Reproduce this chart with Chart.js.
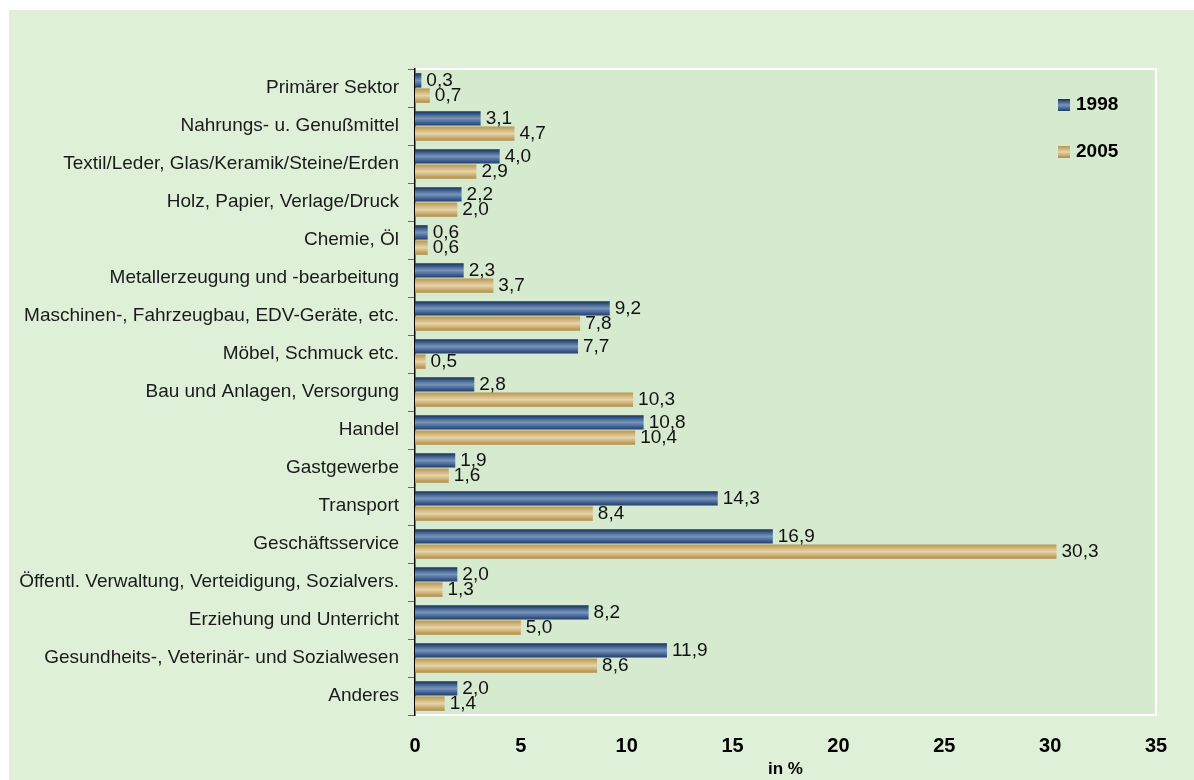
<!DOCTYPE html>
<html>
<head>
<meta charset="utf-8">
<script src="https://cdn.jsdelivr.net/npm/chart.js@4"></script>
<style>
  html, body { margin: 0; padding: 0; background: #ffffff; }
  #wrap { width: 1194px; height: 780px; }
</style>
</head>
<body>
<div id="wrap"><canvas id="chart" width="1194" height="780"></canvas></div>
<script>
// Branchen (categories)
const categories = [
  'Primärer Sektor',
  'Nahrungs- u. Genußmittel',
  'Textil/Leder, Glas/Keramik/Steine/Erden',
  'Holz, Papier, Verlage/Druck',
  'Chemie, Öl',
  'Metallerzeugung und -bearbeitung',
  'Maschinen-, Fahrzeugbau, EDV-Geräte, etc.',
  'Möbel, Schmuck etc.',
  'Bau und Anlagen, Versorgung',
  'Handel',
  'Gastgewerbe',
  'Transport',
  'Geschäftsservice',
  'Öffentl. Verwaltung, Verteidigung, Sozialvers.',
  'Erziehung und Unterricht',
  'Gesundheits-, Veterinär- und Sozialwesen',
  'Anderes'
];
const values1998 = [0.3, 3.1, 4.0, 2.2, 0.6, 2.3, 9.2, 7.7, 2.8, 10.8, 1.9, 14.3, 16.9, 2.0, 8.2, 11.9, 2.0];
const values2005 = [0.7, 4.7, 2.9, 2.0, 0.6, 3.7, 7.8, 0.5, 10.3, 10.4, 1.6, 8.4, 30.3, 1.3, 5.0, 8.6, 1.4];
const seriesLabels = ['1998', '2005'];
const xTicks = [0, 5, 10, 15, 20, 25, 30, 35];

const FONT = "'Liberation Sans', Arial, sans-serif";
const gradStops = [
  ['#14315f', '#7695bc', '#1f3c6e'],
  ['#b8964f', '#e6d3a8', '#b08c45']
];

function makeGradient(ctx, top, bottom, stops) {
  const g = ctx.createLinearGradient(0, top, 0, bottom);
  g.addColorStop(0, stops[0]);
  g.addColorStop(0.5, stops[1]);
  g.addColorStop(1, stops[2]);
  return g;
}

// background + plot area
const backgroundPlugin = {
  id: 'background',
  beforeDraw(chart) {
    const ctx = chart.ctx;
    const a = chart.chartArea;
    ctx.save();
    ctx.fillStyle = '#dff0d8';
    ctx.fillRect(9, 10, chart.width - 9, chart.height - 10);
    ctx.fillStyle = '#d5eace';
    ctx.fillRect(a.left, a.top, a.right - a.left, a.bottom - a.top);
    ctx.strokeStyle = '#ffffff';
    ctx.lineWidth = 2;
    ctx.strokeRect(a.left, a.top, a.right - a.left, a.bottom - a.top);
    ctx.restore();
  }
};

// gradient per bar
const barGradientPlugin = {
  id: 'barGradient',
  beforeDatasetDraw(chart, args) {
    const ctx = chart.ctx;
    args.meta.data.forEach(el => {
      const h = el.height;
      const g = makeGradient(ctx, el.y - h / 2, el.y + h / 2, gradStops[args.index]);
      el.options = Object.assign({}, el.options, { backgroundColor: g });
    });
  }
};

// value labels
const valueLabelPlugin = {
  id: 'valueLabels',
  afterDatasetsDraw(chart) {
    const ctx = chart.ctx;
    ctx.save();
    ctx.font = '19px ' + FONT;
    ctx.fillStyle = '#111111';
    ctx.textBaseline = 'middle';
    ctx.textAlign = 'left';
    chart.data.datasets.forEach((ds, di) => {
      chart.getDatasetMeta(di).data.forEach((el, i) => {
        ctx.fillText(ds.data[i].toFixed(1).replace('.', ','), el.x + 5, el.y);
      });
    });
    ctx.restore();
  }
};

// legend inside plot area
const legendPlugin = {
  id: 'customLegend',
  afterDraw(chart) {
    const ctx = chart.ctx;
    ctx.save();
    ctx.font = 'bold 19px ' + FONT;
    ctx.textBaseline = 'middle';
    seriesLabels.forEach((lab, i) => {
      const y = 105 + i * 47;
      ctx.fillStyle = makeGradient(ctx, y - 6, y + 6, gradStops[i]);
      ctx.fillRect(1058, y - 6, 12, 12);
      ctx.fillStyle = '#000000';
      ctx.fillText(lab, 1076, y);
    });
    ctx.restore();
  }
};

new Chart(document.getElementById('chart').getContext('2d'), {
  type: 'bar',
  data: {
    labels: categories,
    datasets: [
      { label: seriesLabels[0], data: values1998, backgroundColor: '#4a6a98' },
      { label: seriesLabels[1], data: values2005, backgroundColor: '#d2b97f' }
    ]
  },
  options: {
    indexAxis: 'y',
    responsive: false,
    animation: false,
    devicePixelRatio: 1,
    categoryPercentage: 0.8,
    barPercentage: 0.95,
    layout: { padding: { top: 69, right: 38, left: 0, bottom: 0 } },
    plugins: {
      legend: { display: false },
      tooltip: { enabled: false }
    },
    scales: {
      x: {
        min: 0,
        max: 35,
        afterBuildTicks(scale) {
          scale.ticks = xTicks.map(v => ({ value: v }));
        },
        afterFit(scale) { scale.height = 65; },
        grid: { display: false, drawTicks: false },
        border: { display: false },
        ticks: {
          padding: 19,
          color: '#000000',
          font: { family: FONT, size: 20, weight: 'bold' }
        },
        title: {
          display: true,
          text: 'in %',
          color: '#000000',
          padding: { top: 2, bottom: 0 },
          font: { family: FONT, size: 17, weight: 'bold' }
        }
      },
      y: {
        afterFit(scale) { scale.width = 415; },
        grid: {
          drawOnChartArea: false,
          offset: true,
          tickLength: 7,
          color: '#666666'
        },
        border: { display: true, color: '#000000', width: 1.5 },
        ticks: {
          padding: 9,
          color: '#1a1a1a',
          autoSkip: false,
          font: { family: FONT, size: 19 }
        }
      }
    }
  },
  plugins: [backgroundPlugin, barGradientPlugin, valueLabelPlugin, legendPlugin]
});
</script>
</body>
</html>
